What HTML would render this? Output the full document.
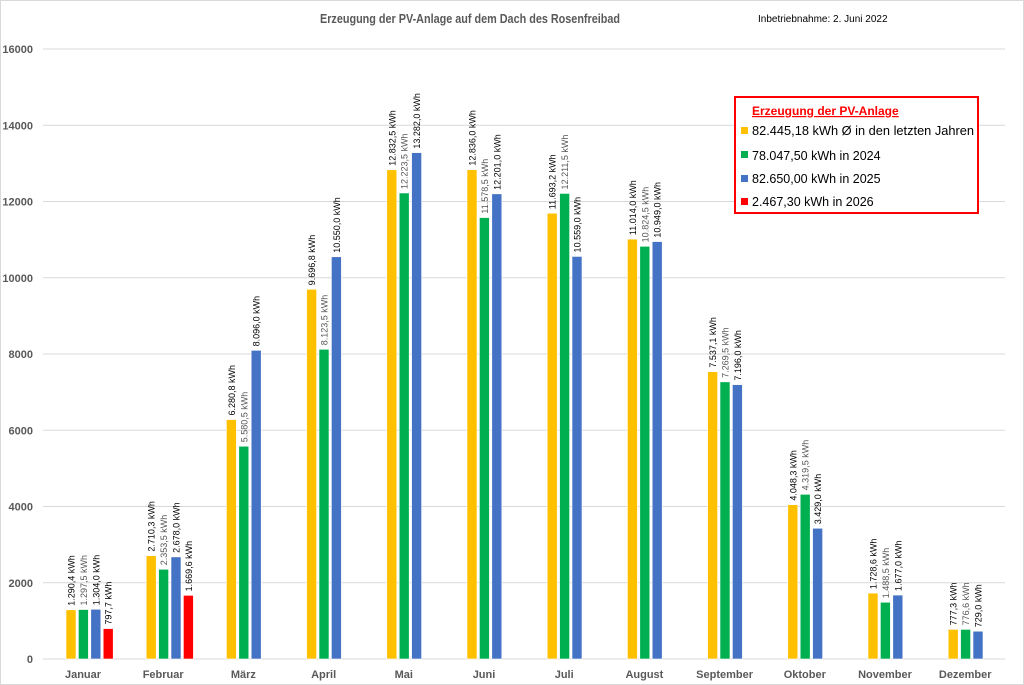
<!DOCTYPE html>
<html><head><meta charset="utf-8"><style>
html,body{margin:0;padding:0;background:#fff}
svg{display:block;font-family:"Liberation Sans",sans-serif}
</style></head><body>
<svg width="1024" height="685" viewBox="0 0 1024 685" xmlns="http://www.w3.org/2000/svg">
<rect x="0.5" y="0.5" width="1023" height="684" fill="#fff" stroke="#d9d9d9"/>
<text x="470" y="23" text-anchor="middle" font-size="12.5" font-weight="bold" fill="#595959" textLength="300" lengthAdjust="spacingAndGlyphs">Erzeugung der PV-Anlage auf dem Dach des Rosenfreibad</text>
<text x="758" y="22" font-size="10" fill="#000">Inbetriebnahme: 2. Juni 2022</text>
<g id="grid" stroke="#d9d9d9" stroke-width="1"></g>
<g id="ylab" font-size="11" font-weight="bold" fill="#595959" text-anchor="end"></g>
<g id="bars"></g>
<g id="xlab" font-size="11" font-weight="bold" fill="#595959" text-anchor="middle"></g>
<rect x="735" y="97" width="243" height="116" fill="#fff" stroke="#ff0000" stroke-width="2"/>
<text x="752" y="115" font-size="12" font-weight="bold" fill="#ff0000" text-decoration="underline">Erzeugung der PV-Anlage</text>
<rect x="741" y="127" width="7" height="7" fill="#ffc000"/><text x="752" y="135" font-size="12.5" textLength="222" lengthAdjust="spacingAndGlyphs">82.445,18 kWh Ø in den letzten Jahren</text>
<rect x="741" y="151" width="7" height="7" fill="#00b050"/><text x="752" y="160" font-size="12.5">78.047,50 kWh in 2024</text>
<rect x="741" y="175" width="7" height="7" fill="#4472c4"/><text x="752" y="183" font-size="12.5">82.650,00 kWh in 2025</text>
<rect x="741" y="198" width="7" height="7" fill="#ff0000"/><text x="752" y="206" font-size="12.5">2.467,30 kWh in 2026</text>
</svg>
<script>
const ns="http://www.w3.org/2000/svg";
function el(p,t,a,txt){const e=document.createElementNS(ns,t);for(const k in a)e.setAttribute(k,a[k]);if(txt!==undefined)e.textContent=txt;document.getElementById(p).appendChild(e);return e;}
const y0=659,sc=610/16000;
for(let v=0;v<=16000;v+=2000){const y=y0-v*sc;el("grid","line",{x1:43,x2:1005,y1:y,y2:y});el("ylab","text",{x:33,y:y+4},v);}
const months=["Januar","Februar","März","April","Mai","Juni","Juli","August","September","Oktober","November","Dezember"];
const data=[[1290.4,1297.5,1304.0,797.7],[2710.3,2353.5,2678.0,1669.6],[6280.8,5580.5,8096.0],[9696.8,8123.5,10550.0],[12832.5,12223.5,13282.0],[12836.0,11578.5,12201.0],[11693.2,12211.5,10559.0],[11014.0,10824.5,10949.0],[7537.1,7269.5,7196.0],[4048.3,4319.5,3429.0],[1728.6,1488.5,1677.0],[777.3,776.6,729.0]];
const cols=["#ffc000","#00b050","#4472c4","#ff0000"];
const lc=["#000","#555","#000","#000"];
function fmt(v){let s=v.toFixed(1).replace(".",",");let [i,d]=s.split(",");i=i.replace(/\B(?=(\d{3})+(?!\d))/g,".");return i+","+d+" kWh";}
months.forEach((m,i)=>{const c=83+80.2*i;el("xlab","text",{x:c,y:678},m);
data[i].forEach((v,j)=>{const x=c-17+12.4*j;const h=v*sc;el("bars","rect",{x:x,y:y0-h,width:10,height:h,fill:cols[j],stroke:"#fff","stroke-width":0.6});
const tx=x+8.5,ty=y0-h-4;el("bars","text",{x:tx,y:ty,transform:`rotate(-90 ${tx} ${ty})`,"font-size":9,fill:lc[j]},fmt(v));});});
</script>
</body></html>
